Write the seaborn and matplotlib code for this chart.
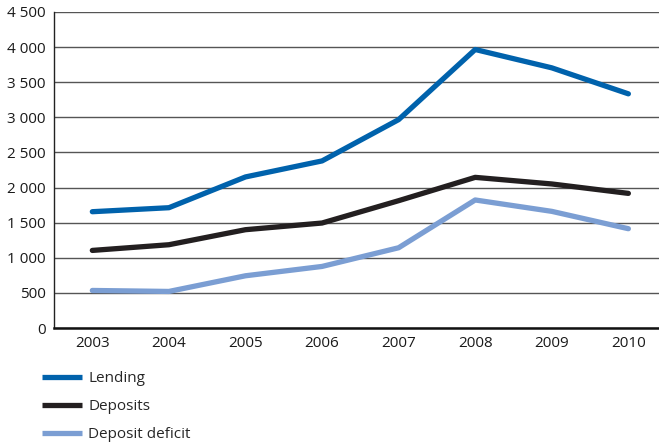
import matplotlib
matplotlib.use("Agg")
import matplotlib.pyplot as plt
from matplotlib.lines import Line2D
from matplotlib.ticker import FuncFormatter, MultipleLocator
import seaborn as sns
import pandas as pd

years = [2003, 2004, 2005, 2006, 2007, 2008, 2009, 2010]
lending = [1657, 1714, 2152, 2380, 2968, 3966, 3705, 3335]
deposits = [1106, 1187, 1401, 1496, 1814, 2146, 2052, 1918]
deficit = [536, 522, 745, 878, 1144, 1824, 1662, 1415]
series_names = ["Lending", "Deposits", "Deposit deficit"]
colors = ["#0062ac", "#231f20", "#7b9ed3"]

df = pd.DataFrame({
    "year": years * 3,
    "value": lending + deposits + deficit,
    "series": [s for s in series_names for _ in years],
})

sns.set_theme(style="white")
plt.rcParams["font.family"] = ["Open Sans", "DejaVu Sans"]

fig = plt.figure(figsize=(6.59, 4.44), dpi=100)
ax = fig.add_axes([0.082, 0.261, 0.918, 0.712])

palette = dict(zip(series_names, colors))
sns.lineplot(data=df, x="year", y="value", hue="series", palette=palette,
             linewidth=3.8, ax=ax, legend=False, solid_capstyle="round")

ax.set_xlim(2002.5, 2010.4)
ax.set_ylim(0, 4500)
ax.yaxis.set_major_locator(MultipleLocator(500))
ax.yaxis.set_major_formatter(FuncFormatter(lambda v, p: f"{int(v):,}".replace(",", " ")))
ax.set_xticks(years)
ax.set_xticklabels([str(y) for y in years])
ax.grid(axis="y", color="#555555", linewidth=1.0)
ax.set_axisbelow(True)
ax.tick_params(axis="both", length=0, labelsize=11, colors="#1a1a1a", pad=6)
ax.set_xlabel("")
ax.set_ylabel("")

for side in ["top", "right"]:
    ax.spines[side].set_visible(False)
ax.spines["left"].set_color("#222222")
ax.spines["left"].set_linewidth(1.0)
ax.spines["bottom"].set_color("#111111")
ax.spines["bottom"].set_linewidth(1.8)

handles = [Line2D([0], [0], color=c, linewidth=3.8, solid_capstyle="butt") for c in colors]
fig.legend(handles, series_names, loc="upper left", bbox_to_anchor=(0.055, 0.178),
           frameon=False, fontsize=11, handlelength=2.6, handletextpad=0.4,
           labelspacing=0.85, borderaxespad=0)

fig.savefig("out.png", dpi=100)
